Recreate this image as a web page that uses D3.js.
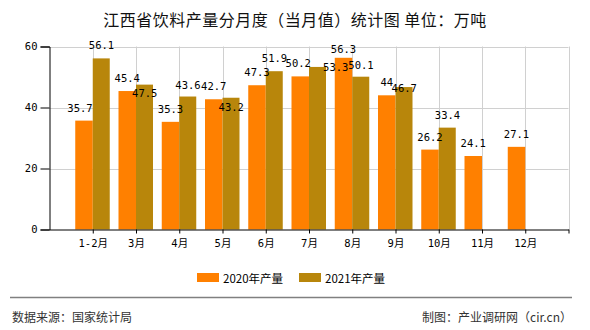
<!DOCTYPE html>
<html>
<head>
<meta charset="utf-8">
<script src="https://cdn.jsdelivr.net/npm/d3@7"></script>
<style>
  html, body { margin: 0; padding: 0; background: #fff; }
  svg { display: block; }
</style>
</head>
<body>
<svg id="chart" width="590" height="330"></svg>
<script>
const categories = ["1-2月","3月","4月","5月","6月","7月","8月","9月","10月","11月","12月"];
const values2020 = [35.7,45.4,35.3,42.7,47.3,50.2,56.3,44,26.2,24.1,27.1];
const values2021 = [56.1,47.5,43.6,43.2,51.9,53.3,50.1,46.7,33.4,null,null];
const yTicks = [0,20,40,60];
const seriesNames = ["2020年产量","2021年产量"];
// label nudges [dx, dy] (px) to mimic the original label collision layout
const labelNudge2020 = [[-4,0],[0,0],[0,0],[0,0],[0,0],[-2,0],[0,4],[0,0],[0,0],[0,0],[0,0]];
const labelNudge2021 = [[0,0],[0,21],[0,1],[0,22],[0,0],[18,13],[0,1.5],[0,14],[0,0.5],[0,0],[0,0]];

const colors = ["#FF8000","#B8860B"];
const numFont = "'DejaVu Sans Mono','Noto Sans CJK SC',monospace";
const cjkFont = "'Noto Sans CJK SC','DejaVu Sans',sans-serif";

const svg = d3.select("#chart");

const x = d3.scaleLinear().domain([0, categories.length + 1]).range([49.5, 568.5]);
const y = d3.scaleLinear().domain([0, 60]).range([229.5, 46.5]);
const barW = 17.5;

// title
svg.append("text").attr("x", 295).attr("y", 18.5)
  .attr("text-anchor","middle").attr("dominant-baseline","central")
  .style("font-family", cjkFont).style("font-size","16px").style("letter-spacing","0.5px")
  .attr("fill","#111")
  .text("江西省饮料产量分月度（当月值）统计图 单位：万吨");

// grid
const g = svg.append("g");
g.selectAll(".hgrid").data(yTicks.filter(d => d > 0)).enter().append("line")
  .attr("x1", x(0)).attr("x2", x(categories.length + 1))
  .attr("y1", d => Math.round(y(d)) + 0.5).attr("y2", d => Math.round(y(d)) + 0.5)
  .attr("stroke", "#d0d0d0").attr("stroke-width", 1);
const vIdx = d3.range(1, categories.length + 2);
g.selectAll(".vgrid").data(vIdx).enter().append("line")
  .attr("x1", d => Math.round(x(d)) + 0.5).attr("x2", d => Math.round(x(d)) + 0.5)
  .attr("y1", y(60)).attr("y2", y(0))
  .attr("stroke", "#d0d0d0").attr("stroke-width", 1);

// bars
const bars = svg.append("g");
bars.selectAll(".b20").data(values2020).enter().append("rect")
  .attr("x", (d,i) => x(i+1) - barW).attr("width", barW)
  .attr("y", d => y(d)).attr("height", d => y(0) - y(d))
  .attr("fill", colors[0]);
bars.selectAll(".b21").data(values2021.map((v,i)=>({v,i})).filter(d => d.v != null)).enter().append("rect")
  .attr("x", d => x(d.i+1)).attr("width", barW - 0.5)
  .attr("y", d => y(d.v)).attr("height", d => y(0) - y(d.v))
  .attr("fill", colors[1]);

// axes
const yAxis = d3.axisLeft(y).tickValues(yTicks).tickSize(9).tickPadding(3);
const yg = svg.append("g").attr("transform", "translate(49.5,0)").call(yAxis);
yg.select(".domain").attr("stroke","#000");
yg.selectAll(".tick line").attr("stroke","#000");
yg.selectAll("text").style("font-family", numFont).style("font-size","10.5px").attr("fill","#000");

const xAxis = d3.axisBottom(x).tickValues(d3.range(1, categories.length + 2))
  .tickSize(4).tickSizeOuter(0).tickPadding(6)
  .tickFormat(d => categories[d-1] || "");
const xg = svg.append("g").attr("transform", `translate(0,${y(0)})`).call(xAxis);
xg.select(".domain").attr("stroke","#000");
xg.selectAll(".tick line").attr("stroke","#000");
xg.selectAll("text").style("font-family", numFont).style("font-size","10.5px").attr("fill","#000");

// data labels
const labels = svg.append("g")
  .style("font-family", numFont).style("font-size","10.5px").attr("fill","#000")
  .attr("text-anchor","middle").attr("dominant-baseline","central");
labels.selectAll(".l20").data(values2020).enter().append("text")
  .attr("x", (d,i) => x(i+1) - barW/2 + labelNudge2020[i][0])
  .attr("y", (d,i) => y(d) - 13 + labelNudge2020[i][1])
  .text(d => d);
labels.selectAll(".l21").data(values2021.map((v,i)=>({v,i})).filter(d => d.v != null)).enter().append("text")
  .attr("x", d => x(d.i+1) + barW/2 + labelNudge2021[d.i][0])
  .attr("y", d => y(d.v) - 13 + labelNudge2021[d.i][1])
  .text(d => d.v);

// legend
const legendX = [197, 299];
const lg = svg.append("g");
seriesNames.forEach((name, i) => {
  lg.append("rect").attr("x", legendX[i]).attr("y", 273).attr("width", 22).attr("height", 9).attr("fill", colors[i]);
  lg.append("text").attr("x", legendX[i] + 26).attr("y", 277.5)
    .attr("dominant-baseline","central")
    .style("font-family", cjkFont).style("font-size","11.5px").attr("fill","#000")
    .text(name);
});

// footer
svg.append("line").attr("x1", 10).attr("x2", 572).attr("y1", 297.5).attr("y2", 297.5)
  .attr("stroke", "#808080").attr("stroke-width", 1.5);
svg.append("text").attr("x", 12).attr("y", 316).attr("dominant-baseline","central")
  .style("font-family", cjkFont).style("font-size","12px").attr("fill","#333")
  .text("数据来源：国家统计局");
svg.append("text").attr("x", 572).attr("y", 316).attr("dominant-baseline","central")
  .attr("text-anchor","end")
  .style("font-family", cjkFont).style("font-size","12px").attr("fill","#333")
  .text("制图：产业调研网（cir.cn）");
</script>
</body>
</html>
